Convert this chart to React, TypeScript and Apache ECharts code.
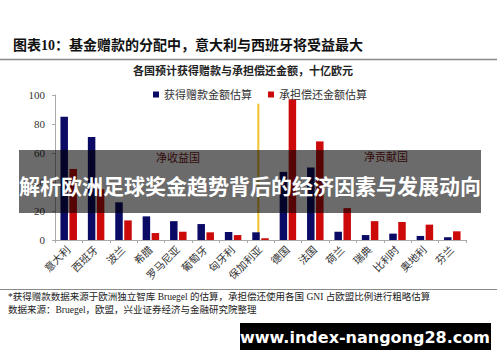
import React, { useEffect, useRef } from "react";
import * as echarts from "echarts";

const categories = ["意大利", "西班牙", "波兰", "希腊", "罗马尼亚", "葡萄牙", "匈牙利", "保加利亚", "德国", "法国", "荷兰", "瑞典", "比利时", "奥地利", "芬兰"];
const grants = [85, 71, 26, 16.3, 13, 11, 5.5, 5.3, 47, 50, 5.7, 3.4, 4.4, 2.8, 1.9];
const repay = [49, 35, 13.5, 4.8, 5.7, 5.3, 3.4, 1.2, 97, 68, 22, 13, 12.4, 10.6, 6];
const yTicks = [0, 20, 40, 60, 80, 100];
const dividerX = 7.42;
const dividerTop = 94;

const SERIF = "'Liberation Serif', 'Noto Sans CJK SC', serif";

export default function App() {
  const ref = useRef<HTMLDivElement>(null);
  useEffect(() => {
    if (!ref.current) return;
    const chart = echarts.init(ref.current, undefined, { renderer: "svg" });
    chart.setOption({
      animation: false,
      backgroundColor: "#ffffff",
      textStyle: { fontFamily: SERIF },
      legend: {
        left: 148,
        top: 84,
        icon: "rect",
        itemWidth: 6,
        itemHeight: 6,
        itemGap: 16,
        textStyle: { fontSize: 11, color: "#333", fontFamily: SERIF },
        data: ["获得赠款金额估算", "承担偿还金额估算"],
      },
      grid: { left: 55, right: 34, top: 95, bottom: 122 },
      xAxis: [
        {
          type: "category",
          data: categories,
          axisLine: { lineStyle: { color: "#aaa" } },
          axisTick: { show: true, length: 3, lineStyle: { color: "#aaa" } },
          axisLabel: { interval: 0, rotate: 45, fontSize: 10.5, color: "#333", margin: 8, fontFamily: SERIF },
        },
        { type: "value", min: 0, max: categories.length, show: false },
      ],
      yAxis: {
        type: "value",
        min: yTicks[0],
        max: yTicks[yTicks.length - 1],
        interval: 20,
        splitLine: { show: false },
        axisLine: { show: true, lineStyle: { color: "#aaa" } },
        axisTick: { show: true, length: 3, lineStyle: { color: "#aaa" } },
        axisLabel: { fontSize: 11, color: "#333", margin: 10, fontFamily: SERIF },
      },
      series: [
        {
          name: "获得赠款金额估算",
          type: "bar",
          data: grants,
          barWidth: 7.5,
          barGap: "20%",
          itemStyle: { color: "#0b0b66" },
        },
        {
          name: "承担偿还金额估算",
          type: "bar",
          data: repay,
          barWidth: 7.5,
          itemStyle: { color: "#cc0a0a" },
        },
        {
          name: "divider",
          type: "line",
          xAxisIndex: 1,
          data: [[dividerX, 0], [dividerX, dividerTop]],
          symbol: "none",
          lineStyle: { color: "#f2c22a", width: 2 },
          z: 1,
        },
      ],
      graphic: [
        {
          type: "text",
          left: 13,
          top: 38,
          style: { text: "图表10：基金赠款的分配中，意大利与西班牙将受益最大", fontSize: 14, fontWeight: "bold", fill: "#111", fontFamily: SERIF },
        },
        {
          type: "line",
          shape: { x1: 0, y1: 59.5, x2: 497, y2: 59.5 },
          style: { stroke: "#8a8a8a", lineWidth: 1.5 },
        },
        {
          type: "text",
          x: 243,
          y: 71,
          style: { text: "各国预计获得赠款与承担偿还金额，十亿欧元", fontSize: 11, fontWeight: "bold", fill: "#222", align: "center", verticalAlign: "middle", fontFamily: SERIF },
        },
        {
          type: "text",
          x: 178,
          y: 158,
          style: { text: "净收益国", fontSize: 11, fill: "#7a2020", align: "center", verticalAlign: "middle", fontFamily: SERIF },
        },
        {
          type: "text",
          x: 386,
          y: 157,
          style: { text: "净贡献国", fontSize: 11, fill: "#7a2020", align: "center", verticalAlign: "middle", fontFamily: SERIF },
        },
        {
          type: "rect",
          shape: { x: 19, y: 150, width: 462, height: 63 },
          style: { fill: "rgba(0,0,0,0.58)" },
          z: 100,
        },
        {
          type: "text",
          x: 250,
          y: 185,
          z: 101,
          style: { text: "解析欧洲足球奖金趋势背后的经济因素与发展动向", fontSize: 21, fontWeight: "bold", fill: "#ffffff", align: "center", verticalAlign: "middle", fontFamily: "'Noto Sans CJK SC', sans-serif" },
        },
        {
          type: "line",
          shape: { x1: 0, y1: 289.5, x2: 497, y2: 289.5 },
          style: { stroke: "#8a8a8a", lineWidth: 1.2 },
        },
        {
          type: "text",
          left: 8,
          top: 292,
          style: { text: "*获得赠款数据来源于欧洲独立智库 Bruegel 的估算，承担偿还使用各国 GNI 占欧盟比例进行粗略估算", fontSize: 9.5, fill: "#222", fontFamily: SERIF },
        },
        {
          type: "text",
          left: 8,
          top: 305,
          style: { text: "数据来源：Bruegel，欧盟，兴业证券经济与金融研究院整理", fontSize: 9.5, fill: "#222", fontFamily: SERIF },
        },
        {
          type: "rect",
          shape: { x: 240, y: 323, width: 251, height: 27 },
          style: { fill: "#000000" },
          z: 100,
        },
        {
          type: "text",
          x: 365,
          y: 337,
          z: 101,
          style: { text: "www.index-nangong28.com", fontSize: 16, fontWeight: "bold", fill: "#ffffff", align: "center", verticalAlign: "middle", fontFamily: "'DejaVu Sans', sans-serif" },
        },
      ],
    });
    return () => chart.dispose();
  }, []);
  return <div ref={ref} style={{ width: 500, height: 362, position: "absolute", left: 0, top: 0 }} />;
}
